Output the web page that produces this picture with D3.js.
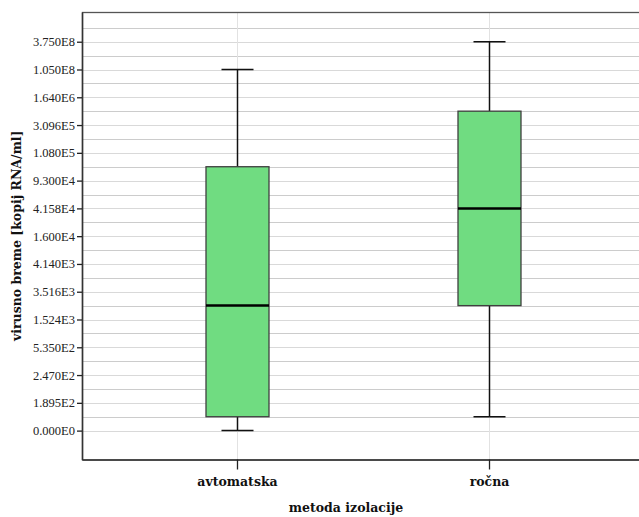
<!DOCTYPE html>
<html>
<head>
<meta charset="utf-8">
<script src="https://cdn.jsdelivr.net/npm/d3@7"></script>
<style>
  html, body { margin: 0; padding: 0; background: #fff; }
  svg { display: block; }
</style>
</head>
<body>
<svg id="chart" width="639" height="517"></svg>
<script>
// ---- data ----
const categories = ["avtomatska", "ročna"];
const yLabels = ["0.000E0","1.895E2","2.470E2","5.350E2","1.524E3","3.516E3","4.140E3","1.600E4","4.158E4","9.300E4","1.080E5","3.096E5","1.640E6","1.050E8","3.750E8"];
// box statistics, expressed as positions on the ordinal (label index) axis
const whiskerLow  = [0,   0.5];
const q1          = [0.5, 4.5];
const median      = [4.5, 8];
const q3          = [9.5, 11.5];
const whiskerHigh = [13,  14];
const xTitle = "metoda izolacije";
const yTitle = "virusno breme [kopij RNA/ml]";

// ---- layout ----
const svg = d3.select("#chart");
const pLeft = 82, pRight = 644, pTop = 12, pBottom = 459.5;

const x = d3.scalePoint().domain(categories).range([pLeft, pRight]).padding(0.615);
const y = d3.scaleLinear().domain([-1.04, 15.07]).range([pBottom, pTop]);
const snap = v => Math.round(v) + 0.5;

// grid lines (every half step)
const gridVals = d3.range(0, yLabels.length - 0.5 + 0.001, 0.5);
svg.append("g").selectAll("line").data(gridVals).join("line")
  .attr("x1", pLeft).attr("x2", pRight)
  .attr("y1", d => snap(y(d))).attr("y2", d => snap(y(d)))
  .attr("stroke", d => Number.isInteger(d) ? "#d9d9d9" : "#cccccc")
  .attr("stroke-width", 1);

// vertical gridlines at categories
svg.append("g").selectAll("line").data(categories).join("line")
  .attr("x1", d => snap(x(d))).attr("x2", d => snap(x(d)))
  .attr("y1", pTop).attr("y2", pBottom)
  .attr("stroke", "#e2e2e2").attr("stroke-width", 1);

// frame
svg.append("rect")
  .attr("x", pLeft + 0.5).attr("y", pTop + 0.5)
  .attr("width", pRight - pLeft).attr("height", pBottom - pTop)
  .attr("fill", "none").attr("stroke", "#555").attr("stroke-width", 1.3);

// y axis
const yAxis = d3.axisLeft(y)
  .tickValues(d3.range(yLabels.length))
  .tickFormat(i => yLabels[i])
  .tickSize(5).tickSizeOuter(0).tickPadding(2);
const gy = svg.append("g").attr("transform", `translate(${pLeft},0)`).call(yAxis);
gy.select(".domain").attr("stroke", "#333").attr("stroke-width", 1.5);
gy.selectAll(".tick line").attr("stroke", "#222").attr("stroke-width", 1.3);
gy.selectAll(".tick text")
  .attr("font-family", "'Liberation Serif', serif")
  .attr("font-size", 12.5).attr("fill", "#222");

// x axis
const xAxis = d3.axisBottom(x).tickSize(10).tickSizeOuter(0).tickPadding(8);
const gx = svg.append("g").attr("transform", `translate(0,${pBottom})`).call(xAxis);
gx.select(".domain").attr("stroke", "#333").attr("stroke-width", 1.5);
gx.selectAll(".tick line").attr("stroke", "#222").attr("stroke-width", 1.3);
gx.selectAll(".tick text")
  .attr("font-family", "'DejaVu Serif', serif").attr("font-weight", "bold")
  .attr("font-size", 12.5).attr("fill", "#111");

// boxes
const boxW = 63, capW = 32;
const g = svg.append("g");
categories.forEach((c, i) => {
  const cx = snap(x(c));
  g.append("line").attr("x1", cx).attr("x2", cx)
    .attr("y1", y(whiskerHigh[i])).attr("y2", y(q3[i]))
    .attr("stroke", "#111").attr("stroke-width", 1.5);
  g.append("line").attr("x1", cx).attr("x2", cx)
    .attr("y1", y(q1[i])).attr("y2", y(whiskerLow[i]))
    .attr("stroke", "#111").attr("stroke-width", 1.5);
  [whiskerHigh[i], whiskerLow[i]].forEach(v => {
    g.append("line").attr("x1", cx - capW / 2).attr("x2", cx + capW / 2)
      .attr("y1", y(v)).attr("y2", y(v))
      .attr("stroke", "#111").attr("stroke-width", 1.5);
  });
  g.append("rect")
    .attr("x", cx - boxW / 2).attr("width", boxW)
    .attr("y", y(q3[i])).attr("height", y(q1[i]) - y(q3[i]))
    .attr("fill", "#70dc81").attr("stroke", "#3f3f3f").attr("stroke-width", 1.3);
  g.append("line").attr("x1", cx - boxW / 2).attr("x2", cx + boxW / 2)
    .attr("y1", y(median[i])).attr("y2", y(median[i]))
    .attr("stroke", "#000").attr("stroke-width", 2.5);
});

// titles
svg.append("text")
  .attr("x", 346).attr("y", 512)
  .attr("text-anchor", "middle")
  .attr("font-family", "'DejaVu Serif', serif").attr("font-weight", "bold")
  .attr("font-size", 12.5).attr("fill", "#111")
  .text(xTitle);

svg.append("text")
  .attr("transform", `translate(21,${(pTop + pBottom) / 2}) rotate(-90)`)
  .attr("text-anchor", "middle")
  .attr("font-family", "'DejaVu Serif', serif").attr("font-weight", "bold")
  .attr("font-size", 12.5).attr("fill", "#111")
  .text(yTitle);
</script>
</body>
</html>
